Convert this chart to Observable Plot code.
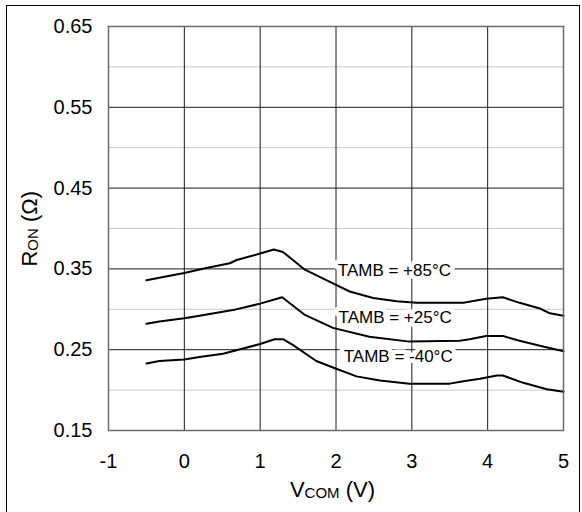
<!DOCTYPE html>
<html>
<head>
<meta charset="utf-8">
<script src="https://cdn.jsdelivr.net/npm/d3@7"></script>
<script src="https://cdn.jsdelivr.net/npm/@observablehq/plot@0.6"></script>
<style>
  html, body { margin: 0; padding: 0; background: white; }
  #wrap { position: relative; width: 582px; height: 512px; overflow: hidden; }
  #border { position: absolute; left: 6px; top: 5px; width: 574px; height: 510px; border: 1px solid black; box-sizing: border-box; }
  #chart { position: absolute; left: 0; top: 0; }
</style>
</head>
<body>
<div id="wrap"><div id="border"></div><div id="chart"></div></div>
<script>
// Data
const vcom85 = [-0.5,-0.33,0,0.29,0.6,0.69,1.0,1.18,1.3,1.59,1.96,2.18,2.49,2.8,3.06,3.68,3.98,4.2,4.42,4.69,4.82,5.0];
const ron85  = [0.336,0.339,0.345,0.351,0.357,0.361,0.369,0.374,0.371,0.349,0.332,0.322,0.314,0.310,0.308,0.308,0.313,0.315,0.308,0.301,0.295,0.292];

const vcom25 = [-0.5,-0.33,0,0.2,0.64,1.0,1.29,1.59,1.96,2.44,2.97,3.63,3.76,3.98,4.2,4.42,4.73,5.0];
const ron25  = [0.282,0.285,0.289,0.292,0.299,0.307,0.315,0.293,0.277,0.266,0.260,0.261,0.263,0.267,0.267,0.261,0.254,0.248];

const vcomM40 = [-0.5,-0.33,0,0.2,0.51,1.0,1.19,1.3,1.43,1.74,1.96,2.27,2.58,2.97,3.5,3.68,3.9,4.12,4.2,4.47,4.78,5.0];
const ronM40  = [0.233,0.236,0.238,0.241,0.245,0.257,0.263,0.263,0.256,0.236,0.228,0.217,0.212,0.208,0.208,0.211,0.214,0.218,0.218,0.209,0.201,0.198];

const seriesNames = ["+85", "+25", "-40"];
const labelText = ["TAMB = +85°C", "TAMB = +25°C", "TAMB = -40°C"];
const labelX = [2.77, 2.78, 2.82];
const labelY = [0.348, 0.290, 0.242];

const xTicks = [-1, 0, 1, 2, 3, 4, 5];
const yTicks = [0.15, 0.25, 0.35, 0.45, 0.55, 0.65];
const yMinor = [0.2, 0.3, 0.4, 0.5, 0.6];

const rows = [];
[[vcom85, ron85], [vcom25, ron25], [vcomM40, ronM40]].forEach(([xs, ys], i) => {
  xs.forEach((x, j) => rows.push({series: seriesNames[i], x, y: ys[j]}));
});
const labels = labelText.map((t, i) => ({text: t, x: labelX[i], y: labelY[i]}));

const chart = Plot.plot({
  width: 582, height: 512,
  marginLeft: 108, marginRight: 19, marginTop: 26, marginBottom: 82,
  style: {fontFamily: "Arial, 'Liberation Sans', sans-serif", color: "black", background: "transparent"},
  x: {domain: [-1, 5]},
  y: {domain: [0.15, 0.65]},
  marks: [
    Plot.ruleY(yMinor, {stroke: "#c8c8c8", strokeWidth: 1}),
    Plot.ruleY(yTicks.slice(1, -1), {stroke: "#1a1a1a", strokeWidth: 1}),
    Plot.ruleX(xTicks.slice(1, -1), {stroke: "#1a1a1a", strokeWidth: 1}),
    Plot.line(rows, {x: "x", y: "y", z: "series", stroke: "black", strokeWidth: 2, curve: "linear"}),
    Plot.text(labels, {x: "x", y: "y", text: "text", fontSize: 17, fill: "black", stroke: "white", strokeWidth: 9}),
    Plot.frame({stroke: "#6a6a6a", strokeWidth: 1.5}),
    Plot.axisX(xTicks, {tickSize: 0, tickPadding: 23, fontSize: 20, label: null, tickFormat: d => String(d)}),
    Plot.axisY(yTicks, {tickSize: 0, tickPadding: 16, fontSize: 20, label: null, tickFormat: d3.format(".2f")})
  ]
});
document.getElementById("chart").appendChild(chart);

const svg = d3.select(chart);
const xs = chart.scale("x"), ys = chart.scale("y");
const cx = (xs.apply(-1) + xs.apply(5)) / 2 - 3;
const xl = svg.append("text")
  .attr("x", cx).attr("y", 497)
  .attr("text-anchor", "middle")
  .attr("font-size", 22).attr("fill", "black")
  .attr("font-family", "Arial, 'Liberation Sans', sans-serif");
xl.append("tspan").text("V");
xl.append("tspan").attr("font-size", 15).attr("dy", 1).text("COM");
xl.append("tspan").attr("dy", -1).text(" (V)");

const yl = svg.append("text")
  .attr("transform", `translate(37,${ys.apply(0.399)}) rotate(-90)`)
  .attr("text-anchor", "middle")
  .attr("font-size", 22).attr("fill", "black")
  .attr("font-family", "Arial, 'Liberation Sans', sans-serif");
yl.append("tspan").text("R");
yl.append("tspan").attr("font-size", 15).attr("dy", 1).text("ON");
yl.append("tspan").attr("dy", -1).text(" (Ω)");
</script>
</body>
</html>
